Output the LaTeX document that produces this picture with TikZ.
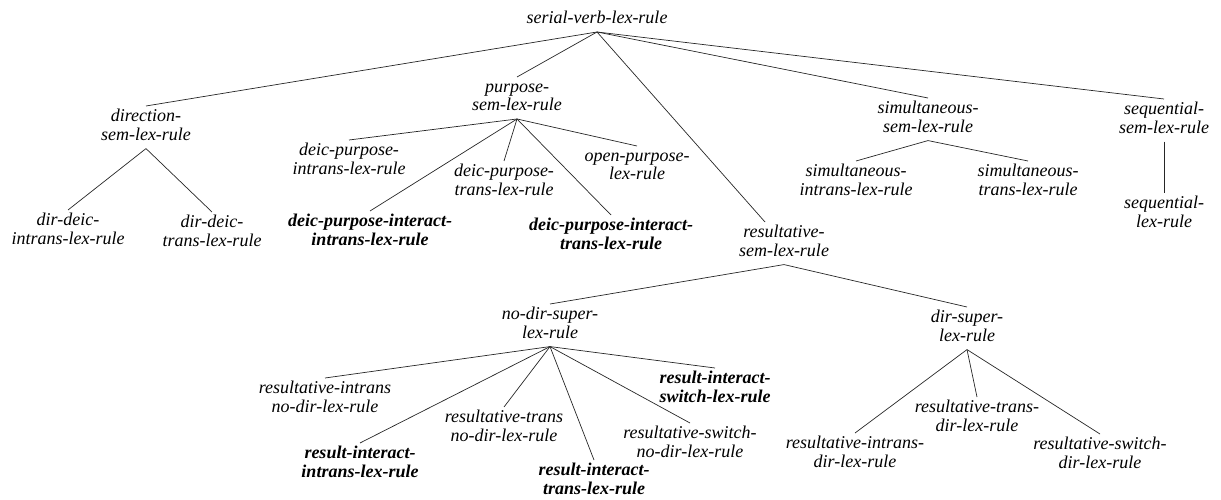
\documentclass[tikz,border=0pt]{standalone}
\usepackage{fontspec}
\setmainfont{Liberation Serif}

\tikzset{
  rulename/.style={font=\fontsize{18}{17}\selectfont\itshape, align=center, inner sep=3pt, anchor=north},
  newrule/.style={rulename, font=\fontsize{18}{17}\selectfont\bfseries\itshape},
  link/.style={line width=0.7pt, draw=black!85}
}
\newcommand{\tl}[2]{\strut#1\\\strut#2}

\begin{document}
\begin{tikzpicture}[x=1pt,y=-1pt]
    \useasboundingbox (0,0) rectangle (1221,500);

    % Top
    \node[rulename] (root) at (597,8) {\strut serial-verb-lex-rule};

    % Semantic types
    \node[rulename] (dir) at (146,106) {\tl{direction-}{sem-lex-rule}};
    \node[rulename] (purp) at (517,77) {\tl{purpose-}{sem-lex-rule}};
    \node[rulename] (res) at (784,222) {\tl{resultative-}{sem-lex-rule}};
    \node[rulename] (simul) at (928,98) {\tl{simultaneous-}{sem-lex-rule}};
    \node[rulename] (seq) at (1164,99) {\tl{sequential-}{sem-lex-rule}};

    % Direction
    \node[rulename] (dirdi) at (68,210) {\tl{dir-deic-}{intrans-lex-rule}};
    \node[rulename] (dirdt) at (212,212) {\tl{dir-deic-}{trans-lex-rule}};

    % Purpose
    \node[rulename] (dpi) at (349,140) {\tl{deic-purpose-}{intrans-lex-rule}};
    \node[newrule] (dpii) at (370,211) {\tl{deic-purpose-interact-}{intrans-lex-rule}};
    \node[rulename] (dpt) at (504,161) {\tl{deic-purpose-}{trans-lex-rule}};
    \node[newrule] (dpit) at (611,215) {\tl{deic-purpose-interact-}{trans-lex-rule}};
    \node[rulename] (opl) at (637,146) {\tl{open-purpose-}{lex-rule}};

    % Simultaneous and sequential
    \node[rulename] (simi) at (856,161) {\tl{simultaneous-}{intrans-lex-rule}};
    \node[rulename] (simt) at (1028,161) {\tl{simultaneous-}{trans-lex-rule}};
    \node[rulename] (seql) at (1164,193) {\tl{sequential-}{lex-rule}};

    % Resultative
    \node[rulename] (nods) at (550,304) {\tl{no-dir-super-}{lex-rule}};
    \node[rulename] (ds) at (967,307) {\tl{dir-super-}{lex-rule}};

    \node[rulename] (rinod) at (325,378) {\tl{resultative-intrans}{no-dir-lex-rule}};
    \node[newrule] (riil) at (360,443) {\tl{result-interact-}{intrans-lex-rule}};
    \node[rulename] (rtnod) at (504,407) {\tl{resultative-trans}{no-dir-lex-rule}};
    \node[newrule] (ritl) at (594,460) {\tl{result-interact-}{trans-lex-rule}};
    \node[rulename] (rsnod) at (690,423) {\tl{resultative-switch-}{no-dir-lex-rule}};
    \node[newrule] (risl) at (715,368) {\tl{result-interact-}{switch-lex-rule}};

    \node[rulename] (rid) at (855,433) {\tl{resultative-intrans-}{dir-lex-rule}};
    \node[rulename] (rtd) at (977,397) {\tl{resultative-trans-}{dir-lex-rule}};
    \node[rulename] (rsd) at (1100,434) {\tl{resultative-switch-}{dir-lex-rule}};

    % Links
    \foreach \kid in {dir,purp,simul,seq}
        \draw[link] (root.south) -- (\kid.north);
    \draw[link] (root.south) -- ([xshift=-19pt]res.north);
    \foreach \kid in {dirdi,dirdt}
        \draw[link] (dir.south) -- (\kid.north);
    \foreach \kid in {dpi,dpii,dpt,dpit,opl}
        \draw[link] (purp.south) -- (\kid.north);
    \foreach \kid in {simi,simt}
        \draw[link] (simul.south) -- (\kid.north);
    \draw[link] (seq.south) -- (seql.north);
    \foreach \kid in {nods,ds}
        \draw[link] (res.south) -- (\kid.north);
    \foreach \kid in {rinod,riil,rtnod,ritl,rsnod,risl}
        \draw[link] (nods.south) -- (\kid.north);
    \foreach \kid in {rid,rtd,rsd}
        \draw[link] (ds.south) -- (\kid.north);
\end{tikzpicture}
\end{document}
